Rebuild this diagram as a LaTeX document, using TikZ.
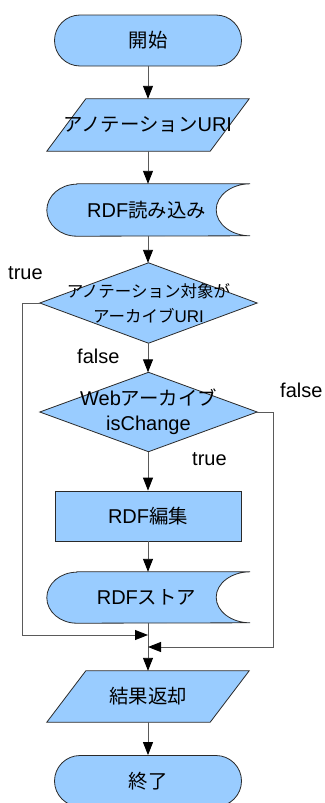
\documentclass[tikz,border=0pt]{standalone}
\usepackage{fontspec}
\setmainfont{Liberation Sans}
\newfontfamily\jp[Scale=0.97]{Noto Sans CJK JP}
\usetikzlibrary{arrows.meta,shapes.misc,backgrounds,calc}
\definecolor{boxfill}{HTML}{99CCFF}
\definecolor{wire}{HTML}{5A5A5A}
\definecolor{edge}{HTML}{2A2A2A}

\tikzset{
  txt/.style={inner sep=0pt, align=center, font=\fontsize{20}{25}\selectfont},
  shapeline/.style={draw=edge, line width=0.8pt, fill=boxfill},
  term/.style={txt, rounded rectangle, shapeline, minimum width=187pt, minimum height=51pt},
  procbox/.style={txt, rectangle, shapeline, minimum width=186pt, minimum height=50pt},
  slot/.style={txt, rectangle, draw=none},
  lbl/.style={inner sep=0pt, font=\fontsize{20}{24}\selectfont},
  flow/.style={draw=wire, line width=0.9pt, -{Triangle[length=13pt,width=10pt,color=black]}}
}

\begin{document}
\begin{tikzpicture}[x=1pt,y=-1pt]
\clip (0,0) rectangle (324,803);

% terminals, process box and text holders of the custom shapes
\node[term] (start) at (148,40.5) {\jp 開始};
\node[slot, minimum width=202pt, minimum height=52pt] (uri) at (148,125) {\jp アノテーション{\rmfamily URI}};
\node[slot, minimum width=203pt, minimum height=52pt] (load) at (148.5,210) {\hspace*{-4pt}RDF{\jp 読み込み}};
\node[slot, minimum width=217pt, minimum height=80pt, font=\fontsize{17}{25}\selectfont] (q1) at (148.5,303)
  {{\jp アノテーション対象が}\\{\jp アーカイブ}URI};
\node[slot, minimum width=217pt, minimum height=79pt] (q2) at (148.5,412) {Web{\jp アーカイブ}\\isChange};
\node[procbox] (edit) at (148,516) {RDF{\jp 編集}};
\node[slot, minimum width=203pt, minimum height=51pt] (store) at (148.5,597.5) {\hspace*{-4pt}RDF{\jp ストア}};
\node[slot, minimum width=202pt, minimum height=51pt] (result) at (148,696.5) {\jp 結果返却};
\node[term] (stop) at (148,781) {\jp 終了};

% outlines drawn behind the texts
\begin{scope}[on background layer]
  \fill[white] (0,0) rectangle (324,803);
  % data input / output
  \draw[shapeline] ([xshift=39pt]uri.north west) -- (uri.north east)
    -- ([xshift=-39pt]uri.south east) -- (uri.south west) -- cycle;
  \draw[shapeline] ([xshift=39pt]result.north west) -- (result.north east)
    -- ([xshift=-39pt]result.south east) -- (result.south west) -- cycle;
  % stored data
  \draw[shapeline] ([xshift=30pt]load.north west) -- (load.north east)
    arc[start angle=90, end angle=270, x radius=34pt, y radius=26pt]
    -- ([xshift=30pt]load.south west)
    arc[start angle=270, end angle=90, x radius=30pt, y radius=26pt] -- cycle;
  \draw[shapeline] ([xshift=30pt]store.north west) -- (store.north east)
    arc[start angle=90, end angle=270, x radius=34pt, y radius=25.5pt]
    -- ([xshift=30pt]store.south west)
    arc[start angle=270, end angle=90, x radius=30pt, y radius=25.5pt] -- cycle;
  % decisions
  \draw[shapeline] (q1.north) -- (q1.east) -- (q1.south) -- (q1.west) -- cycle;
  \draw[shapeline] (q2.north) -- (q2.east) -- (q2.south) -- (q2.west) -- cycle;
\end{scope}

% merge points on the trunk
\coordinate (m1) at (148,635);
\coordinate (m2) at (148,647);

% main flow
\draw[flow] (start.south) -- (start.south |- uri.north);
\draw[flow] (uri.south) -- (uri.south |- load.north);
\draw[flow] (uri.south |- load.south) -- (uri.south |- q1.north);
\draw[flow] (uri.south |- q1.south) -- (uri.south |- q2.north);
\draw[flow] (uri.south |- q2.south) -- (edit.north);
\draw[flow] (edit.south) -- (edit.south |- store.north);
\draw[flow] (edit.south |- store.south) -- (result.north);
\draw[flow] (result.south) -- (stop.north);

% branches rejoining the trunk
\draw[flow] (q1.west) -- ++(-17.3,0) |- (m1);
\draw[flow] (q2.east) -- ++(16,0) |- (m2);

% branch labels
\node[lbl, anchor=base west] (t1) at (8,279) {true};
\node[lbl, anchor=base west] (f1) at (77,363) {false};
\node[lbl, anchor=base west] (f2) at (280,397) {false};
\node[lbl, anchor=base west] (t2) at (192,465) {true};
\end{tikzpicture}
\end{document}
